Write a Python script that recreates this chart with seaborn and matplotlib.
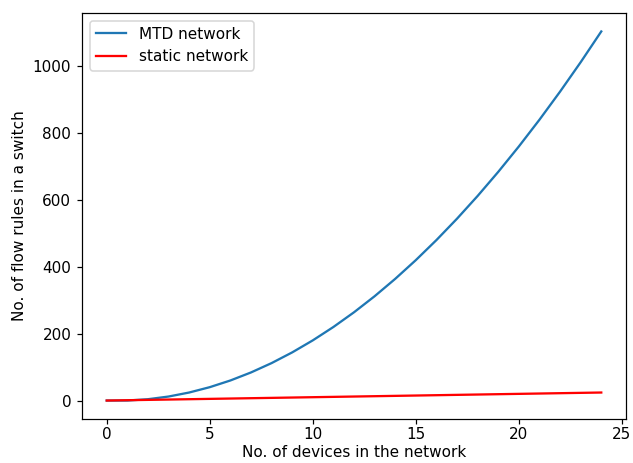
import matplotlib
matplotlib.use("Agg")
import matplotlib.pyplot as plt
import seaborn as sns
import pandas as pd

# values
devices = list(range(25))
mtd_rules = [0, 0, 4, 12, 24, 40, 60, 84, 112, 144, 180, 220, 264, 312, 364,
             420, 480, 544, 612, 684, 760, 840, 924, 1012, 1104]
static_rules = [0, 1, 2, 3, 4, 5, 6, 7, 8, 9, 10, 11, 12, 13, 14,
                15, 16, 17, 18, 19, 20, 21, 22, 23, 24]

df = pd.DataFrame({"devices": devices, "mtd": mtd_rules, "static": static_rules})

fig, ax = plt.subplots(figsize=(633 / 110, 463 / 110), dpi=110)
sns.lineplot(data=df, x="devices", y="mtd", ax=ax, color="#1f77b4", label="MTD network")
sns.lineplot(data=df, x="devices", y="static", ax=ax, color="red", label="static network")

ax.set_xlabel("No. of devices in the network", labelpad=2)
ax.set_ylabel("No. of flow rules in a switch")
ax.set_xticks([0, 5, 10, 15, 20, 25])
ax.tick_params(axis="x", pad=2)
ax.legend(loc="upper left")

fig.subplots_adjust(left=82 / 633, right=626 / 633, bottom=1 - 419 / 463, top=1 - 13 / 463)
fig.savefig("out.png", dpi=110)
